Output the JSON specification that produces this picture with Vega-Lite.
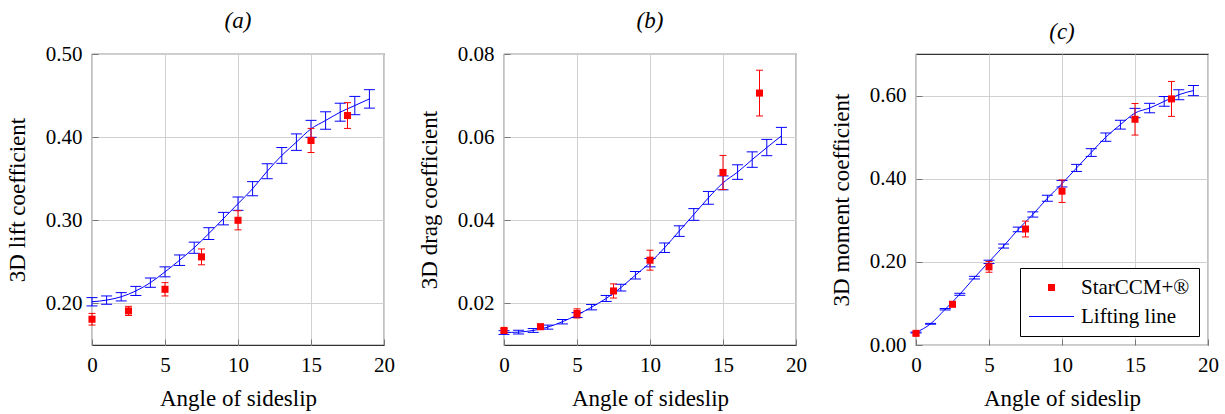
{
  "$schema": "https://vega.github.io/schema/vega-lite/v6.json",
  "padding": {"left": 5, "top": 9, "right": 5, "bottom": 0},
  "spacing": 21,
  "resolve": {"scale": {"color": "independent", "shape": "independent"}, "legend": {"color": "independent", "shape": "independent"}},
  "datasets": {
    "lift": [
      {"series": "Lifting line", "x": 0, "y": 0.202, "lo": 0.197, "hi": 0.207},
      {"series": "Lifting line", "x": 1, "y": 0.204, "lo": 0.199, "hi": 0.209},
      {"series": "Lifting line", "x": 2, "y": 0.208, "lo": 0.203, "hi": 0.213},
      {"series": "Lifting line", "x": 3, "y": 0.215, "lo": 0.2095, "hi": 0.2205},
      {"series": "Lifting line", "x": 4, "y": 0.225, "lo": 0.2194, "hi": 0.2306},
      {"series": "Lifting line", "x": 5, "y": 0.238, "lo": 0.232, "hi": 0.244},
      {"series": "Lifting line", "x": 6, "y": 0.252, "lo": 0.2457, "hi": 0.2583},
      {"series": "Lifting line", "x": 7, "y": 0.267, "lo": 0.2603, "hi": 0.2737},
      {"series": "Lifting line", "x": 8, "y": 0.284, "lo": 0.2769, "hi": 0.2911},
      {"series": "Lifting line", "x": 9, "y": 0.302, "lo": 0.2945, "hi": 0.3095},
      {"series": "Lifting line", "x": 10, "y": 0.320, "lo": 0.312, "hi": 0.328},
      {"series": "Lifting line", "x": 11, "y": 0.338, "lo": 0.3295, "hi": 0.3465},
      {"series": "Lifting line", "x": 12, "y": 0.359, "lo": 0.350, "hi": 0.368},
      {"series": "Lifting line", "x": 13, "y": 0.378, "lo": 0.3685, "hi": 0.3875},
      {"series": "Lifting line", "x": 14, "y": 0.394, "lo": 0.3841, "hi": 0.4039},
      {"series": "Lifting line", "x": 15, "y": 0.410, "lo": 0.3998, "hi": 0.4202},
      {"series": "Lifting line", "x": 16, "y": 0.420, "lo": 0.4095, "hi": 0.4305},
      {"series": "Lifting line", "x": 17, "y": 0.430, "lo": 0.4192, "hi": 0.4408},
      {"series": "Lifting line", "x": 18, "y": 0.438, "lo": 0.427, "hi": 0.449},
      {"series": "Lifting line", "x": 19, "y": 0.446, "lo": 0.4349, "hi": 0.4571},
      {"series": "StarCCM+®", "x": 0, "y": 0.181, "lo": 0.174, "hi": 0.188},
      {"series": "StarCCM+®", "x": 2.5, "y": 0.191, "lo": 0.1855, "hi": 0.1965},
      {"series": "StarCCM+®", "x": 5, "y": 0.217, "lo": 0.209, "hi": 0.225},
      {"series": "StarCCM+®", "x": 7.5, "y": 0.256, "lo": 0.2465, "hi": 0.2655},
      {"series": "StarCCM+®", "x": 10, "y": 0.300, "lo": 0.2885, "hi": 0.3115},
      {"series": "StarCCM+®", "x": 15, "y": 0.396, "lo": 0.3815, "hi": 0.4105},
      {"series": "StarCCM+®", "x": 17.5, "y": 0.426, "lo": 0.4105, "hi": 0.4415}
    ],
    "drag": [
      {"series": "Lifting line", "x": 0, "y": 0.0130, "lo": 0.01255, "hi": 0.01345},
      {"series": "Lifting line", "x": 1, "y": 0.0131, "lo": 0.01265, "hi": 0.01355},
      {"series": "Lifting line", "x": 2, "y": 0.0135, "lo": 0.01304, "hi": 0.01396},
      {"series": "Lifting line", "x": 3, "y": 0.0143, "lo": 0.01381, "hi": 0.01479},
      {"series": "Lifting line", "x": 4, "y": 0.0156, "lo": 0.01507, "hi": 0.01613},
      {"series": "Lifting line", "x": 5, "y": 0.0172, "lo": 0.01662, "hi": 0.01778},
      {"series": "Lifting line", "x": 6, "y": 0.0191, "lo": 0.01845, "hi": 0.01975},
      {"series": "Lifting line", "x": 7, "y": 0.0212, "lo": 0.02048, "hi": 0.02192},
      {"series": "Lifting line", "x": 8, "y": 0.0238, "lo": 0.02299, "hi": 0.02461},
      {"series": "Lifting line", "x": 9, "y": 0.0268, "lo": 0.02589, "hi": 0.02771},
      {"series": "Lifting line", "x": 10, "y": 0.0298, "lo": 0.0288, "hi": 0.0308},
      {"series": "Lifting line", "x": 11, "y": 0.0334, "lo": 0.03226, "hi": 0.03454},
      {"series": "Lifting line", "x": 12, "y": 0.0374, "lo": 0.03613, "hi": 0.03867},
      {"series": "Lifting line", "x": 13, "y": 0.0414, "lo": 0.03999, "hi": 0.04281},
      {"series": "Lifting line", "x": 14, "y": 0.0454, "lo": 0.04386, "hi": 0.04694},
      {"series": "Lifting line", "x": 15, "y": 0.0490, "lo": 0.04733, "hi": 0.05067},
      {"series": "Lifting line", "x": 16, "y": 0.0516, "lo": 0.04985, "hi": 0.05335},
      {"series": "Lifting line", "x": 17, "y": 0.0546, "lo": 0.05274, "hi": 0.05646},
      {"series": "Lifting line", "x": 18, "y": 0.0575, "lo": 0.05554, "hi": 0.05946},
      {"series": "Lifting line", "x": 19, "y": 0.0603, "lo": 0.05825, "hi": 0.06235},
      {"series": "StarCCM+®", "x": 0, "y": 0.0135, "lo": 0.0130, "hi": 0.0140},
      {"series": "StarCCM+®", "x": 2.5, "y": 0.0144, "lo": 0.0138, "hi": 0.0150},
      {"series": "StarCCM+®", "x": 5, "y": 0.0176, "lo": 0.0165, "hi": 0.0187},
      {"series": "StarCCM+®", "x": 7.5, "y": 0.0230, "lo": 0.0213, "hi": 0.0247},
      {"series": "StarCCM+®", "x": 10, "y": 0.0304, "lo": 0.0280, "hi": 0.0328},
      {"series": "StarCCM+®", "x": 15, "y": 0.0515, "lo": 0.0474, "hi": 0.0556},
      {"series": "StarCCM+®", "x": 17.5, "y": 0.0706, "lo": 0.0651, "hi": 0.0761}
    ],
    "moment": [
      {"series": "Lifting line", "x": 0, "y": 0.030, "lo": 0.029, "hi": 0.031},
      {"series": "Lifting line", "x": 1, "y": 0.051, "lo": 0.050, "hi": 0.052},
      {"series": "Lifting line", "x": 2, "y": 0.086, "lo": 0.0843, "hi": 0.0877},
      {"series": "Lifting line", "x": 3, "y": 0.122, "lo": 0.1196, "hi": 0.1244},
      {"series": "Lifting line", "x": 4, "y": 0.162, "lo": 0.1588, "hi": 0.1652},
      {"series": "Lifting line", "x": 5, "y": 0.200, "lo": 0.196, "hi": 0.204},
      {"series": "Lifting line", "x": 6, "y": 0.238, "lo": 0.2332, "hi": 0.2428},
      {"series": "Lifting line", "x": 7, "y": 0.278, "lo": 0.2724, "hi": 0.2836},
      {"series": "Lifting line", "x": 8, "y": 0.314, "lo": 0.3077, "hi": 0.3203},
      {"series": "Lifting line", "x": 9, "y": 0.353, "lo": 0.3459, "hi": 0.3601},
      {"series": "Lifting line", "x": 10, "y": 0.388, "lo": 0.3802, "hi": 0.3958},
      {"series": "Lifting line", "x": 11, "y": 0.426, "lo": 0.4175, "hi": 0.4345},
      {"series": "Lifting line", "x": 12, "y": 0.463, "lo": 0.4537, "hi": 0.4723},
      {"series": "Lifting line", "x": 13, "y": 0.500, "lo": 0.490, "hi": 0.510},
      {"series": "Lifting line", "x": 14, "y": 0.530, "lo": 0.5194, "hi": 0.5406},
      {"series": "Lifting line", "x": 15, "y": 0.558, "lo": 0.5468, "hi": 0.5692},
      {"series": "Lifting line", "x": 16, "y": 0.570, "lo": 0.5586, "hi": 0.5814},
      {"series": "Lifting line", "x": 17, "y": 0.586, "lo": 0.5743, "hi": 0.5977},
      {"series": "Lifting line", "x": 18, "y": 0.602, "lo": 0.590, "hi": 0.614},
      {"series": "Lifting line", "x": 19, "y": 0.612, "lo": 0.5998, "hi": 0.6242},
      {"series": "StarCCM+®", "x": 0, "y": 0.028, "lo": 0.024, "hi": 0.032},
      {"series": "StarCCM+®", "x": 2.5, "y": 0.098, "lo": 0.092, "hi": 0.104},
      {"series": "StarCCM+®", "x": 5, "y": 0.188, "lo": 0.175, "hi": 0.201},
      {"series": "StarCCM+®", "x": 7.5, "y": 0.279, "lo": 0.260, "hi": 0.298},
      {"series": "StarCCM+®", "x": 10, "y": 0.370, "lo": 0.343, "hi": 0.397},
      {"series": "StarCCM+®", "x": 15, "y": 0.543, "lo": 0.505, "hi": 0.581},
      {"series": "StarCCM+®", "x": 17.5, "y": 0.592, "lo": 0.550, "hi": 0.634}
    ]
  },
  "hconcat": [
    {
      "width": 292, "height": 291,
      "view": {"stroke": "#333333", "strokeWidth": 1.2},
      "title": {"text": "(a)", "font": "Liberation Serif", "fontStyle": "italic", "fontWeight": "normal", "fontSize": 23, "color": "black", "offset": 10},
      "data": {"name": "lift"},
      "encoding": {
        "x": {"field": "x", "type": "quantitative", "scale": {"domain": [0, 20], "nice": false}, "title": "Angle of sideslip",
          "axis": {"values": [0, 5, 10, 15, 20], "labelFont": "Liberation Serif", "titleFont": "Liberation Serif", "labelFontSize": 21, "titleFontSize": 23, "titleFontWeight": "normal", "labelColor": "black", "titleColor": "black", "grid": true, "gridColor": "#d0d0d0", "domain": false, "tickColor": "#777777", "tickSize": -6, "labelPadding": 15, "titlePadding": 12, "labelFlush": false}}
      },
      "layer": [
        {"transform": [{"filter": "datum.series == 'Lifting line'"}], "mark": {"type": "line", "color": "blue", "strokeWidth": 1, "interpolate": "monotone"},
         "encoding": {"y": {"field": "y", "type": "quantitative", "scale": {"domain": [0.15, 0.5], "nice": false, "zero": false}, "title": "3D lift coefficient",
           "axis": {"values": [0.2, 0.3, 0.4, 0.5], "format": ".2f", "labelFont": "Liberation Serif", "titleFont": "Liberation Serif", "labelFontSize": 21, "titleFontSize": 23, "titleFontWeight": "normal", "labelColor": "black", "titleColor": "black", "grid": true, "gridColor": "#d0d0d0", "domain": false, "tickColor": "#777777", "tickSize": -6, "labelPadding": 16, "titlePadding": 15, "minExtent": 48, "maxExtent": 48}}}},
        {"transform": [{"filter": "datum.series == 'Lifting line'"}], "mark": {"type": "rule", "color": "blue", "strokeWidth": 1},
         "encoding": {"y": {"field": "lo", "type": "quantitative", "scale": {"domain": [0.15, 0.5], "nice": false, "zero": false}, "title": "3D lift coefficient"}, "y2": {"field": "hi"}}},
        {"transform": [{"filter": "datum.series == 'Lifting line'"}], "mark": {"type": "tick", "orient": "horizontal", "color": "blue", "size": 11, "thickness": 1, "opacity": 1},
         "encoding": {"y": {"field": "lo", "type": "quantitative", "scale": {"domain": [0.15, 0.5], "nice": false, "zero": false}, "title": "3D lift coefficient"}}},
        {"transform": [{"filter": "datum.series == 'Lifting line'"}], "mark": {"type": "tick", "orient": "horizontal", "color": "blue", "size": 11, "thickness": 1, "opacity": 1},
         "encoding": {"y": {"field": "hi", "type": "quantitative", "scale": {"domain": [0.15, 0.5], "nice": false, "zero": false}, "title": "3D lift coefficient"}}},
        {"transform": [{"filter": "datum.series != 'Lifting line'"}], "mark": {"type": "rule", "color": "red", "strokeWidth": 1},
         "encoding": {"y": {"field": "lo", "type": "quantitative", "scale": {"domain": [0.15, 0.5], "nice": false, "zero": false}, "title": "3D lift coefficient"}, "y2": {"field": "hi"}}},
        {"transform": [{"filter": "datum.series != 'Lifting line'"}], "mark": {"type": "tick", "orient": "horizontal", "color": "red", "size": 7, "thickness": 1, "opacity": 1},
         "encoding": {"y": {"field": "lo", "type": "quantitative", "scale": {"domain": [0.15, 0.5], "nice": false, "zero": false}, "title": "3D lift coefficient"}}},
        {"transform": [{"filter": "datum.series != 'Lifting line'"}], "mark": {"type": "tick", "orient": "horizontal", "color": "red", "size": 7, "thickness": 1, "opacity": 1},
         "encoding": {"y": {"field": "hi", "type": "quantitative", "scale": {"domain": [0.15, 0.5], "nice": false, "zero": false}, "title": "3D lift coefficient"}}},
        {"transform": [{"filter": "datum.series != 'Lifting line'"}], "mark": {"type": "point", "shape": "square", "filled": true, "color": "red", "size": 50, "opacity": 1},
         "encoding": {"y": {"field": "y", "type": "quantitative", "scale": {"domain": [0.15, 0.5], "nice": false, "zero": false}, "title": "3D lift coefficient"}}}
      ]
    },
    {
      "width": 292, "height": 291,
      "view": {"stroke": "#333333", "strokeWidth": 1.2},
      "title": {"text": "(b)", "font": "Liberation Serif", "fontStyle": "italic", "fontWeight": "normal", "fontSize": 23, "color": "black", "offset": 10},
      "data": {"name": "drag"},
      "encoding": {
        "x": {"field": "x", "type": "quantitative", "scale": {"domain": [0, 20], "nice": false}, "title": "Angle of sideslip",
          "axis": {"values": [0, 5, 10, 15, 20], "labelFont": "Liberation Serif", "titleFont": "Liberation Serif", "labelFontSize": 21, "titleFontSize": 23, "titleFontWeight": "normal", "labelColor": "black", "titleColor": "black", "grid": true, "gridColor": "#d0d0d0", "domain": false, "tickColor": "#777777", "tickSize": -6, "labelPadding": 15, "titlePadding": 12, "labelFlush": false}}
      },
      "layer": [
        {"transform": [{"filter": "datum.series == 'Lifting line'"}], "mark": {"type": "line", "color": "blue", "strokeWidth": 1, "interpolate": "monotone"},
         "encoding": {"y": {"field": "y", "type": "quantitative", "scale": {"domain": [0.01, 0.08], "nice": false, "zero": false}, "title": "3D drag coefficient",
           "axis": {"values": [0.02, 0.04, 0.06, 0.08], "format": ".2f", "labelFont": "Liberation Serif", "titleFont": "Liberation Serif", "labelFontSize": 21, "titleFontSize": 23, "titleFontWeight": "normal", "labelColor": "black", "titleColor": "black", "grid": true, "gridColor": "#d0d0d0", "domain": false, "tickColor": "#777777", "tickSize": -6, "labelPadding": 16, "titlePadding": 15, "minExtent": 48, "maxExtent": 48}}}},
        {"transform": [{"filter": "datum.series == 'Lifting line'"}], "mark": {"type": "rule", "color": "blue", "strokeWidth": 1},
         "encoding": {"y": {"field": "lo", "type": "quantitative", "scale": {"domain": [0.01, 0.08], "nice": false, "zero": false}, "title": "3D drag coefficient"}, "y2": {"field": "hi"}}},
        {"transform": [{"filter": "datum.series == 'Lifting line'"}], "mark": {"type": "tick", "orient": "horizontal", "color": "blue", "size": 11, "thickness": 1, "opacity": 1},
         "encoding": {"y": {"field": "lo", "type": "quantitative", "scale": {"domain": [0.01, 0.08], "nice": false, "zero": false}, "title": "3D drag coefficient"}}},
        {"transform": [{"filter": "datum.series == 'Lifting line'"}], "mark": {"type": "tick", "orient": "horizontal", "color": "blue", "size": 11, "thickness": 1, "opacity": 1},
         "encoding": {"y": {"field": "hi", "type": "quantitative", "scale": {"domain": [0.01, 0.08], "nice": false, "zero": false}, "title": "3D drag coefficient"}}},
        {"transform": [{"filter": "datum.series != 'Lifting line'"}], "mark": {"type": "rule", "color": "red", "strokeWidth": 1},
         "encoding": {"y": {"field": "lo", "type": "quantitative", "scale": {"domain": [0.01, 0.08], "nice": false, "zero": false}, "title": "3D drag coefficient"}, "y2": {"field": "hi"}}},
        {"transform": [{"filter": "datum.series != 'Lifting line'"}], "mark": {"type": "tick", "orient": "horizontal", "color": "red", "size": 7, "thickness": 1, "opacity": 1},
         "encoding": {"y": {"field": "lo", "type": "quantitative", "scale": {"domain": [0.01, 0.08], "nice": false, "zero": false}, "title": "3D drag coefficient"}}},
        {"transform": [{"filter": "datum.series != 'Lifting line'"}], "mark": {"type": "tick", "orient": "horizontal", "color": "red", "size": 7, "thickness": 1, "opacity": 1},
         "encoding": {"y": {"field": "hi", "type": "quantitative", "scale": {"domain": [0.01, 0.08], "nice": false, "zero": false}, "title": "3D drag coefficient"}}},
        {"transform": [{"filter": "datum.series != 'Lifting line'"}], "mark": {"type": "point", "shape": "square", "filled": true, "color": "red", "size": 50, "opacity": 1},
         "encoding": {"y": {"field": "y", "type": "quantitative", "scale": {"domain": [0.01, 0.08], "nice": false, "zero": false}, "title": "3D drag coefficient"}}}
      ]
    },
    {
      "width": 292, "height": 291,
      "view": {"stroke": "#333333", "strokeWidth": 1.2},
      "title": {"text": "(c)", "font": "Liberation Serif", "fontStyle": "italic", "fontWeight": "normal", "fontSize": 23, "color": "black", "offset": 10},
      "data": {"name": "moment"},
      "encoding": {
        "x": {"field": "x", "type": "quantitative", "scale": {"domain": [0, 20], "nice": false}, "title": "Angle of sideslip",
          "axis": {"values": [0, 5, 10, 15, 20], "labelFont": "Liberation Serif", "titleFont": "Liberation Serif", "labelFontSize": 21, "titleFontSize": 23, "titleFontWeight": "normal", "labelColor": "black", "titleColor": "black", "grid": true, "gridColor": "#d0d0d0", "domain": false, "tickColor": "#777777", "tickSize": -6, "labelPadding": 15, "titlePadding": 12, "labelFlush": false}}
      },
      "layer": [
        {"transform": [{"filter": "datum.series == 'Lifting line'"}], "mark": {"type": "line", "color": "blue", "strokeWidth": 1, "interpolate": "monotone"},
         "encoding": {"y": {"field": "y", "type": "quantitative", "scale": {"domain": [0, 0.7], "nice": false, "zero": false}, "title": "3D moment coefficient",
           "axis": {"values": [0, 0.2, 0.4, 0.6], "format": ".2f", "labelFont": "Liberation Serif", "titleFont": "Liberation Serif", "labelFontSize": 21, "titleFontSize": 23, "titleFontWeight": "normal", "labelColor": "black", "titleColor": "black", "grid": true, "gridColor": "#d0d0d0", "domain": false, "tickColor": "#777777", "tickSize": -6, "labelPadding": 16, "titlePadding": 15, "minExtent": 48, "maxExtent": 48}}}},
        {"transform": [{"filter": "datum.series == 'Lifting line'"}], "mark": {"type": "rule", "color": "blue", "strokeWidth": 1},
         "encoding": {"y": {"field": "lo", "type": "quantitative", "scale": {"domain": [0, 0.7], "nice": false, "zero": false}, "title": "3D moment coefficient"}, "y2": {"field": "hi"}}},
        {"transform": [{"filter": "datum.series == 'Lifting line'"}], "mark": {"type": "tick", "orient": "horizontal", "color": "blue", "size": 11, "thickness": 1, "opacity": 1},
         "encoding": {"y": {"field": "lo", "type": "quantitative", "scale": {"domain": [0, 0.7], "nice": false, "zero": false}, "title": "3D moment coefficient"}}},
        {"transform": [{"filter": "datum.series == 'Lifting line'"}], "mark": {"type": "tick", "orient": "horizontal", "color": "blue", "size": 11, "thickness": 1, "opacity": 1},
         "encoding": {"y": {"field": "hi", "type": "quantitative", "scale": {"domain": [0, 0.7], "nice": false, "zero": false}, "title": "3D moment coefficient"}}},
        {"transform": [{"filter": "datum.series != 'Lifting line'"}], "mark": {"type": "rule", "color": "red", "strokeWidth": 1},
         "encoding": {"y": {"field": "lo", "type": "quantitative", "scale": {"domain": [0, 0.7], "nice": false, "zero": false}, "title": "3D moment coefficient"}, "y2": {"field": "hi"}}},
        {"transform": [{"filter": "datum.series != 'Lifting line'"}], "mark": {"type": "tick", "orient": "horizontal", "color": "red", "size": 7, "thickness": 1, "opacity": 1},
         "encoding": {"y": {"field": "lo", "type": "quantitative", "scale": {"domain": [0, 0.7], "nice": false, "zero": false}, "title": "3D moment coefficient"}}},
        {"transform": [{"filter": "datum.series != 'Lifting line'"}], "mark": {"type": "tick", "orient": "horizontal", "color": "red", "size": 7, "thickness": 1, "opacity": 1},
         "encoding": {"y": {"field": "hi", "type": "quantitative", "scale": {"domain": [0, 0.7], "nice": false, "zero": false}, "title": "3D moment coefficient"}}},
        {"transform": [{"filter": "datum.series != 'Lifting line'"}], "mark": {"type": "point", "filled": true, "size": 400, "opacity": 1, "strokeWidth": 0},
         "encoding": {
           "y": {"field": "y", "type": "quantitative", "scale": {"domain": [0, 0.7], "nice": false, "zero": false}, "title": "3D moment coefficient"},
           "color": {"field": "series", "type": "nominal", "scale": {"domain": ["StarCCM+®", "Lifting line"], "range": ["red", "blue"]},
             "legend": {"title": null, "orient": "bottom-right", "offset": 9, "strokeColor": "black", "fillColor": "white", "padding": 9, "cornerRadius": 0,
               "labelFont": "Liberation Serif", "labelFontSize": 21, "labelColor": "black", "labelOffset": 19, "symbolOffset": 12, "rowPadding": 7, "symbolSize": 400, "symbolStrokeWidth": 0}},
           "shape": {"field": "series", "type": "nominal", "scale": {"domain": ["StarCCM+®", "Lifting line"], "range": ["M-0.35,-0.35H0.35V0.35H-0.35Z", "M-2.25,-0.06H2.25V0.06H-2.25Z"]}}
         }}
      ]
    }
  ]
}
